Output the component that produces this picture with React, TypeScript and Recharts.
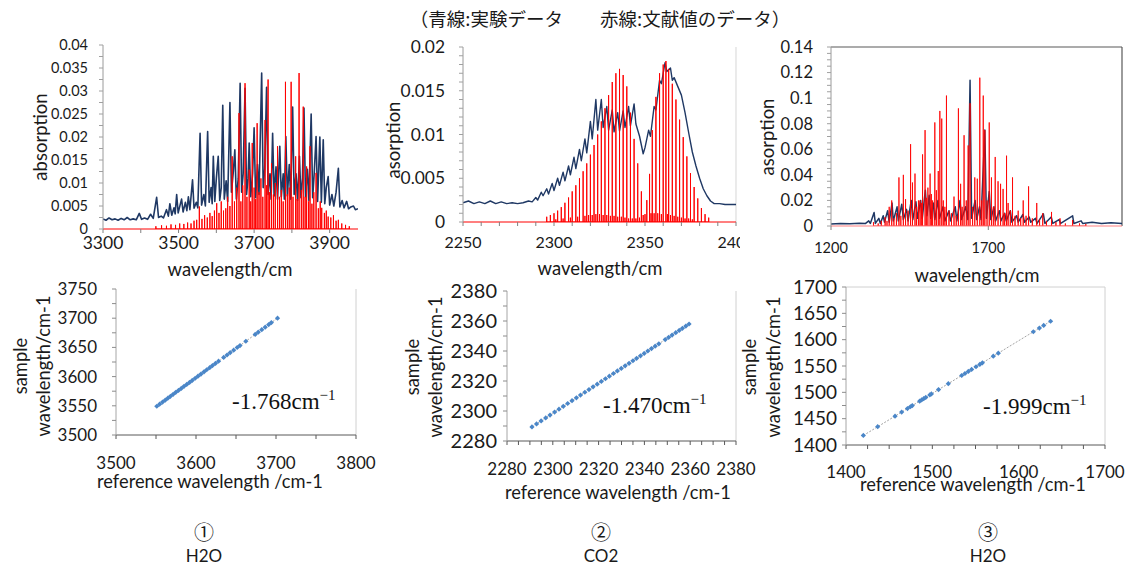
import React from 'react';
import {
  ComposedChart, Line, XAxis, YAxis, ReferenceLine,
  ScatterChart, Scatter,
} from 'recharts';

type Pt = [number, number];

// ---------------- text ----------------
const titleText = '（青線:実験データ　　赤線:文献値のデータ）';
const panelNumbers = ['①', '②', '③'];
const panelMolecules = ['H2O', 'CO2', 'H2O'];
const shiftValues = ['-1.768', '-1.470', '-1.999'];

// ---------------- panel 1 : H2O 3300-3975 ----------------
const p1XTicks = [3300, 3400, 3500, 3600, 3700, 3800, 3900];
const p1XLabels = [3300, 3500, 3700, 3900];
const p1YTicks = [0, 0.0025, 0.005, 0.0075, 0.01, 0.0125, 0.015, 0.0175, 0.02, 0.0225, 0.025, 0.0275, 0.03, 0.0325, 0.035, 0.0375, 0.04];
const p1YLabels = [0, 0.005, 0.01, 0.015, 0.02, 0.025, 0.03, 0.035, 0.04];
const p1Blue: Pt[] = [
  [3300,0.0022],[3308,0.0019],[3316,0.0024],[3324,0.002],[3332,0.0022],[3340,0.0019],[3348,0.0023],[3356,0.002],
  [3364,0.0025],[3372,0.002],[3380,0.0022],[3388,0.002],[3396,0.0034],[3402,0.0021],[3410,0.0024],[3418,0.0021],
  [3426,0.0032],[3433,0.0023],[3442,0.0069],[3447,0.0025],[3454,0.0028],[3460,0.0024],[3468,0.0042],[3473,0.0028],
  [3477,0.0055],[3482,0.003],[3488,0.0046],[3491,0.0033],[3495,0.0075],[3499,0.0035],[3504,0.0052],[3508,0.0065],
  [3512,0.0037],[3518,0.0058],[3522,0.004],[3526,0.007],[3530,0.0042],[3537,0.0107],[3541,0.0045],[3547,0.0058],
  [3551,0.0046],[3557,0.0208],[3561,0.0052],[3567,0.0075],[3571,0.005],[3577,0.0212],[3581,0.0058],[3586,0.009],
  [3589,0.0055],[3592,0.0158],[3596,0.006],[3600,0.011],[3605,0.0158],[3609,0.0062],[3613,0.009],[3617,0.0269],
  [3621,0.0065],[3626,0.0105],[3630,0.006],[3636,0.0275],[3640,0.008],[3645,0.0125],[3649,0.0172],[3653,0.0065],
  [3658,0.011],[3663,0.0317],[3667,0.008],[3671,0.012],[3676,0.0306],[3680,0.0075],[3684,0.011],[3687,0.0187],
  [3691,0.007],[3696,0.012],[3700,0.022],[3704,0.0068],[3709,0.014],[3713,0.0075],[3720,0.0339],[3724,0.009],
  [3728,0.013],[3733,0.0308],[3737,0.0075],[3742,0.012],[3745,0.0065],[3749,0.0208],[3753,0.0072],[3758,0.0135],
  [3762,0.0065],[3768,0.018],[3772,0.007],[3777,0.012],[3780,0.0065],[3784,0.0201],[3788,0.0072],[3793,0.014],
  [3797,0.0065],[3802,0.0265],[3806,0.0075],[3811,0.012],[3815,0.0062],[3820,0.0158],[3824,0.0068],[3828,0.011],
  [3832,0.0263],[3836,0.007],[3841,0.013],[3845,0.0062],[3851,0.025],[3855,0.0068],[3859,0.012],[3864,0.0201],
  [3868,0.006],[3874,0.02],[3878,0.0058],[3883,0.0194],[3887,0.0055],[3891,0.009],[3896,0.0114],[3900,0.0052],
  [3906,0.0075],[3911,0.005],[3917,0.008],[3923,0.0132],[3927,0.0048],[3933,0.0062],[3938,0.0046],[3945,0.006],
  [3950,0.0044],[3956,0.0048],[3963,0.005],[3968,0.0042],[3975,0.0044],
];
const p1Red: Pt[] = [
  [3440,0.0006],[3455,0.0008],[3468,0.0007],[3480,0.001],[3492,0.0009],[3503,0.0012],[3514,0.0011],[3524,0.0014],
  [3533,0.0012],[3541,0.0018],[3548,0.002],[3555,0.0049],[3562,0.0022],[3569,0.003],[3576,0.0025],[3583,0.0035],
  [3589,0.0028],[3595,0.004],[3601,0.0056],[3607,0.0035],[3613,0.006],[3619,0.004],[3625,0.0045],[3630,0.007],
  [3636,0.005],[3642,0.0158],[3648,0.006],[3654,0.009],[3660,0.0252],[3665,0.006],[3670,0.0095],[3676,0.0317],
  [3681,0.007],[3687,0.0129],[3691,0.006],[3695,0.0187],[3700,0.009],[3704,0.0065],[3708,0.023],[3713,0.008],
  [3718,0.011],[3723,0.007],[3729,0.0237],[3733,0.0095],[3737,0.0325],[3741,0.008],[3746,0.0143],[3751,0.0075],
  [3756,0.01],[3762,0.018],[3767,0.007],[3772,0.0085],[3777,0.006],[3783,0.032],[3788,0.0075],[3793,0.009],
  [3798,0.032],[3803,0.007],[3810,0.0158],[3814,0.0065],[3819,0.0339],[3825,0.0085],[3830,0.0266],[3835,0.007],
  [3839,0.0136],[3844,0.006],[3848,0.018],[3853,0.0055],[3858,0.008],[3864,0.0122],[3870,0.0045],[3875,0.006],
  [3879,0.0046],[3886,0.0035],[3891,0.004],[3896,0.0027],[3903,0.0025],[3910,0.003],[3917,0.0018],[3923,0.002],
  [3932,0.0012],[3942,0.0009],[3952,0.0006],
];

// ---------------- panel 2 : CO2 2250-2400 ----------------
const p2XTicks = [2250, 2260, 2270, 2280, 2290, 2300, 2310, 2320, 2330, 2340, 2350, 2360, 2370, 2380, 2390, 2400];
const p2XLabels = [2250, 2300, 2350, 2400];
const p2YTicks = [0, 0.001, 0.002, 0.003, 0.004, 0.005, 0.006, 0.007, 0.008, 0.009, 0.01, 0.011, 0.012, 0.013, 0.014, 0.015, 0.016, 0.017, 0.018, 0.019, 0.02];
const p2YLabels = [0, 0.005, 0.01, 0.015, 0.02];
const p2Blue: Pt[] = [
  [2250,0.0022],[2253,0.0024],[2256,0.0021],[2259,0.0023],[2262,0.0021],[2265,0.0024],[2268,0.0021],[2271,0.0023],
  [2274,0.0021],[2277,0.0022],[2280,0.0021],[2283,0.0022],[2286,0.0024],[2288,0.0023],[2290,0.0028],[2291,0.0025],
  [2293,0.0034],[2294,0.003],[2296,0.0038],[2297,0.0032],[2299,0.0044],[2300,0.0036],[2302,0.005],[2303,0.0042],
  [2305,0.0057],[2306,0.0047],[2308,0.0064],[2309,0.0054],[2311,0.0074],[2312,0.0061],[2314,0.0083],[2315,0.007],
  [2317,0.0095],[2318,0.0079],[2320,0.0115],[2321,0.0095],[2323,0.014],[2324,0.0105],[2326,0.014],[2327,0.0108],
  [2329,0.0132],[2330,0.0105],[2332,0.0128],[2333,0.0103],[2335,0.0125],[2336,0.0104],[2338,0.0127],[2339,0.0108],
  [2341,0.0132],[2342,0.011],[2344,0.0135],[2345,0.0112],[2347,0.0098],[2349,0.0078],[2350,0.0085],[2352,0.0105],
  [2353,0.0098],[2355,0.0132],[2356,0.0128],[2358,0.0162],[2359,0.0158],[2361,0.0182],[2362,0.0172],[2364,0.0176],
  [2365,0.0162],[2366,0.0165],[2368,0.0155],[2370,0.0145],[2372,0.0125],[2374,0.0102],[2376,0.008],[2378,0.0064],
  [2380,0.005],[2382,0.0038],[2384,0.003],[2386,0.0024],[2388,0.0021],[2391,0.0021],[2394,0.002],[2397,0.002],[2400,0.002],
];
const p2Red: Pt[] = [
  [2296,0.0006],[2298,0.0008],[2300,0.001],[2301,0.0003],[2302,0.0013],[2304,0.0017],[2305,0.0004],[2306,0.0022],
  [2308,0.0028],[2309,0.0005],[2310,0.0035],[2312,0.0042],[2313,0.0006],[2314,0.005],[2316,0.0058],[2317,0.0007],
  [2318,0.0067],[2319,0.0008],[2320,0.0077],[2321,0.0008],[2322,0.0088],[2323,0.0009],[2324,0.01],[2325,0.0009],
  [2326,0.0115],[2327,0.0008],[2328,0.013],[2329,0.0008],[2330,0.0145],[2331,0.0007],[2332,0.016],[2333,0.0007],
  [2334,0.017],[2335,0.0006],[2336,0.0175],[2337,0.0006],[2338,0.0168],[2339,0.0005],[2340,0.0155],[2341,0.0004],
  [2342,0.0125],[2343,0.0004],[2344,0.0095],[2345,0.0004],[2346,0.0067],[2347,0.0005],[2348,0.0035],[2349,0.0008],
  [2350,0.0009],[2351,0.0025],[2352.5,0.0055],[2353.3,0.001],[2354,0.0105],[2355,0.001],[2356,0.0143],[2357,0.001],
  [2358,0.017],[2359,0.0009],[2360,0.018],[2361.5,0.0184],[2362.3,0.0009],[2363,0.0175],[2364,0.0008],[2365,0.0158],
  [2366,0.0007],[2367,0.014],[2368,0.0006],[2369,0.0117],[2370,0.0005],[2371,0.0097],[2372,0.0004],[2373,0.0075],
  [2374,0.0004],[2375,0.0056],[2376,0.0003],[2377,0.004],[2379,0.0027],[2381,0.0016],[2383,0.0009],[2385,0.0005],
];

// ---------------- panel 3 : H2O 1200-2125 ----------------
const p3XTicks = [1200, 1700];
const p3XLabels = [1200, 1700];
const p3YTicks = [0, 0.005, 0.01, 0.015, 0.02, 0.025, 0.03, 0.035, 0.04, 0.045, 0.05, 0.055, 0.06, 0.065, 0.07, 0.075, 0.08, 0.085, 0.09, 0.095, 0.1, 0.105, 0.11, 0.115, 0.12, 0.125, 0.13, 0.135, 0.14];
const p3YLabels = [0, 0.02, 0.04, 0.06, 0.08, 0.1, 0.12, 0.14];
const p3Blue: Pt[] = [
  [1200,0.0015],[1230,0.002],[1260,0.0018],[1290,0.0022],[1310,0.002],[1320,0.004],[1325,0.002],[1337,0.0105],
  [1341,0.002],[1352,0.006],[1357,0.002],[1366,0.008],[1370,0.003],[1380,0.012],[1385,0.003],[1394,0.018],
  [1398,0.004],[1410,0.015],[1414,0.004],[1425,0.017],[1430,0.005],[1440,0.013],[1445,0.004],[1455,0.02],
  [1460,0.005],[1470,0.019],[1475,0.006],[1485,0.02],[1490,0.006],[1500,0.028],[1505,0.008],[1512,0.024],
  [1517,0.006],[1525,0.018],[1530,0.005],[1540,0.02],[1545,0.006],[1556,0.015],[1562,0.004],[1575,0.012],
  [1580,0.004],[1595,0.015],[1600,0.004],[1610,0.02],[1615,0.005],[1628,0.015],[1635,0.005],[1642,0.114],
  [1647,0.006],[1658,0.02],[1663,0.005],[1672,0.015],[1677,0.005],[1689,0.075],[1694,0.006],[1703,0.027],
  [1708,0.005],[1718,0.015],[1723,0.004],[1735,0.012],[1740,0.004],[1752,0.01],[1757,0.004],[1770,0.012],
  [1775,0.003],[1790,0.008],[1795,0.003],[1810,0.009],[1815,0.003],[1830,0.007],[1835,0.003],[1850,0.006],
  [1855,0.002],[1875,0.0095],[1880,0.002],[1900,0.007],[1905,0.002],[1925,0.005],[1930,0.002],[1968,0.008],
  [1972,0.002],[1995,0.004],[2000,0.002],[2030,0.003],[2060,0.002],[2090,0.0025],[2125,0.002],
];
const p3Red: Pt[] = [
  [1335,0.003],[1350,0.002],[1360,0.004],[1372,0.007],[1378,0.004],[1385,0.015],[1393,0.02],[1400,0.006],
  [1408,0.01],[1416,0.038],[1422,0.008],[1430,0.04],[1437,0.021],[1445,0.012],[1453,0.064],[1459,0.034],
  [1467,0.041],[1472,0.015],[1478,0.02],[1483,0.02],[1487,0.018],[1491,0.056],[1499,0.075],[1503,0.022],
  [1508,0.03],[1515,0.041],[1519,0.025],[1523,0.02],[1530,0.081],[1535,0.028],[1541,0.043],[1546,0.09],
  [1552,0.084],[1557,0.02],[1562,0.015],[1567,0.102],[1575,0.012],[1583,0.01],[1591,0.023],[1598,0.008],
  [1605,0.092],[1612,0.033],[1617,0.015],[1623,0.071],[1630,0.02],[1636,0.063],[1642,0.096],[1650,0.015],
  [1657,0.038],[1665,0.037],[1673,0.116],[1679,0.02],[1684,0.102],[1689,0.075],[1696,0.02],[1703,0.081],
  [1710,0.038],[1716,0.015],[1722,0.054],[1731,0.035],[1739,0.033],[1747,0.029],[1752,0.01],[1758,0.055],
  [1763,0.018],[1770,0.012],[1777,0.038],[1785,0.008],[1795,0.012],[1803,0.006],[1811,0.02],[1820,0.008],
  [1828,0.031],[1840,0.006],[1854,0.018],[1863,0.005],[1873,0.01],[1885,0.004],[1901,0.011],[1915,0.003],
  [1928,0.006],[1945,0.002],[1968,0.0047],[1990,0.002],[2010,0.0015],
];

// ---------------- panel 4 : H2O calibration ----------------
const p4XTicks = [3500, 3550, 3600, 3650, 3700, 3750, 3800];
const p4XLabels = [3500, 3600, 3700, 3800];
const p4YTicks = [3500, 3525, 3550, 3575, 3600, 3625, 3650, 3675, 3700, 3725, 3750];
const p4YLabels = [3500, 3550, 3600, 3650, 3700, 3750];
const p4Points: Pt[] = [
  [3551.0,3549.2],[3554.5,3552.8],[3558.2,3556.4],[3561.5,3559.7],[3564.8,3563.1],[3568.0,3566.2],[3571.4,3569.6],
  [3574.7,3573.0],[3578.1,3576.3],[3581.6,3579.8],[3585.0,3583.3],[3588.4,3586.6],[3591.9,3590.1],[3595.3,3593.5],
  [3599.0,3597.2],[3602.5,3600.8],[3606.2,3604.4],[3610.0,3608.2],[3613.4,3611.7],[3617.1,3615.3],[3620.6,3618.8],
  [3624.3,3622.5],[3628.2,3626.4],[3634.6,3632.8],[3638.8,3637.0],[3642.7,3640.9],[3647.1,3645.3],[3651.5,3649.8],
  [3655.0,3653.2],[3662.3,3660.5],[3674.0,3672.2],[3677.8,3676.1],[3682.2,3680.4],[3686.5,3684.7],[3690.9,3689.1],
  [3694.2,3692.5],[3701.9,3700.1],
];
const p4Fit: Pt[] = [[3551.0,3549.2],[3701.9,3700.1]];

// ---------------- panel 5 : CO2 calibration ----------------
const p5XTicks = [2280, 2285, 2290, 2295, 2300, 2305, 2310, 2315, 2320, 2325, 2330, 2335, 2340, 2345, 2350, 2355, 2360, 2365, 2370, 2375, 2380];
const p5XLabels = [2280, 2300, 2320, 2340, 2360, 2380];
const p5YTicks = [2280, 2290, 2300, 2310, 2320, 2330, 2340, 2350, 2360, 2370, 2380];
const p5YLabels = [2280, 2300, 2320, 2340, 2360, 2380];
const p5Points: Pt[] = [
  [2290.9,2289.4],[2292.9,2291.4],[2294.9,2293.4],[2296.9,2295.4],[2298.8,2297.3],[2300.8,2299.3],[2302.7,2301.2],
  [2304.6,2303.1],[2306.5,2305.0],[2308.4,2306.9],[2310.3,2308.8],[2312.1,2310.6],[2314.0,2312.5],[2315.8,2314.3],
  [2317.6,2316.1],[2319.4,2317.9],[2321.2,2319.7],[2323.0,2321.5],[2324.7,2323.2],[2326.5,2325.0],[2328.2,2326.7],
  [2329.9,2328.4],[2331.6,2330.1],[2333.3,2331.8],[2335.0,2333.5],[2336.6,2335.1],[2338.3,2336.8],[2339.9,2338.4],
  [2341.5,2340.0],[2343.1,2341.6],[2344.7,2343.2],[2346.3,2344.8],[2349.1,2347.6],[2350.6,2349.1],[2352.1,2350.6],
  [2353.7,2352.2],[2355.2,2353.7],[2356.6,2355.1],[2358.1,2356.6],[2359.5,2358.0],
];
const p5Fit: Pt[] = [[2290.9,2289.4],[2359.5,2358.0]];

// ---------------- panel 6 : H2O calibration ----------------
const p6XTicks = [1400, 1425, 1450, 1475, 1500, 1525, 1550, 1575, 1600, 1625, 1650, 1675, 1700];
const p6XLabels = [1400, 1500, 1600, 1700];
const p6YTicks = [1400, 1425, 1450, 1475, 1500, 1525, 1550, 1575, 1600, 1625, 1650, 1675, 1700];
const p6YLabels = [1400, 1450, 1500, 1550, 1600, 1650, 1700];
const p6Points: Pt[] = [
  [1420.1,1418.1],[1436.7,1434.7],[1456.8,1454.8],[1464.5,1462.5],[1471.2,1469.2],[1474.6,1472.6],[1476.8,1474.8],
  [1485.3,1483.3],[1487.6,1485.6],[1490.0,1488.0],[1492.4,1490.4],[1497.1,1495.1],[1498.9,1496.9],[1507.2,1505.2],
  [1518.5,1516.5],[1534.0,1532.0],[1537.8,1535.8],[1541.7,1539.7],[1545.5,1543.5],[1550.6,1548.6],[1555.0,1553.0],
  [1558.0,1556.0],[1570.6,1568.6],[1576.4,1574.4],[1617.0,1615.0],[1624.0,1622.0],[1629.0,1627.0],[1637.0,1635.0],
];
const p6Fit: Pt[] = [[1420.1,1418.1],[1637.0,1635.0]];

// ---------------- helpers ----------------
const FONT = 'Lato, "Noto Sans", "DejaVu Sans", sans-serif';
const SERIF = '"Liberation Serif", "Times New Roman", serif';
const CJK = '"Noto Sans CJK JP", "Noto Sans", sans-serif';
const POINT_BLUE = '#4a86c8';

const toXY = (list: Pt[]) => list.map(([x, y]) => ({ x, y }));
const toSticks = (list: Pt[]) => {
  const sorted = [...list].sort((a, b) => a[0] - b[0]);
  const out: { x: number; y: number }[] = [];
  sorted.forEach(([x, h]) => { out.push({ x, y: 0 }, { x, y: h }, { x, y: 0 }); });
  return out;
};
const labelFmt = (labels: number[]) => (v: number) =>
  labels.some((l) => Math.abs(l - v) < 1e-9) ? String(v) : '';

const SmallDiamond = (p: any) => {
  const r = 2.6;
  if (p.cx == null || p.cy == null) return <g />;
  return (
    <path d={`M${p.cx},${p.cy - r}L${p.cx + r},${p.cy}L${p.cx},${p.cy + r}L${p.cx - r},${p.cy}Z`} fill={POINT_BLUE} />
  );
};

interface AxisStyle {
  xFont: number; yFont: number; xTickMargin: number; yTickMargin: number;
}
interface Box { x0: number; y0: number; x1: number; y1: number; yAxisW: number; mRight: number; }

function SpectrumPanel(props: {
  box: Box; st: AxisStyle;
  xDomain: [number, number]; xTicks: number[]; xLabels: number[];
  yDomain: [number, number]; yTicks: number[]; yLabels: number[];
  blue: Pt[]; red: Pt[]; baseColor: string; redOpacity: number; blueWidth: number;
  borderColor?: string; borderTop?: boolean;
}) {
  const { box, st } = props;
  const mTop = 12, xAxisH = 40;
  return (
    <div style={{ position: 'absolute', left: box.x0 - box.yAxisW, top: box.y0 - mTop }}>
      <ComposedChart
        width={box.x1 - box.x0 + box.yAxisW + box.mRight}
        height={box.y1 - box.y0 + mTop + xAxisH}
        margin={{ top: mTop, right: box.mRight, bottom: 0, left: 0 }}
      >
        <XAxis type="number" dataKey="x" domain={props.xDomain} ticks={props.xTicks} interval={0}
          allowDataOverflow height={xAxisH} tickFormatter={labelFmt(props.xLabels)}
          axisLine={{ stroke: props.baseColor, strokeWidth: 1.2 }} tickLine={{ stroke: '#808080' }}
          tickSize={4} tickMargin={st.xTickMargin}
          tick={{ fontSize: st.xFont, fill: '#1a1a1a', fontFamily: FONT }} />
        <YAxis type="number" domain={props.yDomain} ticks={props.yTicks} interval={0}
          allowDataOverflow width={box.yAxisW} tickFormatter={labelFmt(props.yLabels)}
          axisLine={{ stroke: '#9a9a9a' }} tickLine={{ stroke: '#a0a0a0' }}
          tickSize={4} tickMargin={st.yTickMargin}
          tick={{ fontSize: st.yFont, fill: '#1a1a1a', fontFamily: FONT }} />
        {props.borderColor && (
          <ReferenceLine x={props.xDomain[1]} stroke={props.borderColor} strokeWidth={1.2} />
        )}
        {props.borderColor && props.borderTop && (
          <ReferenceLine y={props.yDomain[1]} stroke={props.borderColor} strokeWidth={1.2} />
        )}
        <Line data={toXY(props.blue)} dataKey="y" type="linear" stroke="#1f3864" strokeWidth={props.blueWidth}
          strokeLinejoin="round" dot={false} activeDot={false} isAnimationActive={false} />
        <Line data={toSticks(props.red)} dataKey="y" type="linear" stroke="#ff0000" strokeWidth={1}
          strokeOpacity={props.redOpacity} dot={false} activeDot={false} isAnimationActive={false} />
      </ComposedChart>
    </div>
  );
}

function CalibPanel(props: {
  box: Box; st: AxisStyle;
  xDomain: [number, number]; xTicks: number[]; xLabels: number[];
  yDomain: [number, number]; yTicks: number[]; yLabels: number[];
  points: Pt[]; fit: Pt[]; borderTop?: boolean;
}) {
  const { box, st } = props;
  const mTop = 16, xAxisH = 44;
  return (
    <div style={{ position: 'absolute', left: box.x0 - box.yAxisW, top: box.y0 - mTop }}>
      <ScatterChart
        width={box.x1 - box.x0 + box.yAxisW + box.mRight}
        height={box.y1 - box.y0 + mTop + xAxisH}
        margin={{ top: mTop, right: box.mRight, bottom: 0, left: 0 }}
      >
        <XAxis type="number" dataKey="x" domain={props.xDomain} ticks={props.xTicks} interval={0}
          allowDataOverflow height={xAxisH} tickFormatter={labelFmt(props.xLabels)}
          axisLine={{ stroke: '#595959' }} tickLine={{ stroke: '#595959' }}
          tickSize={4} tickMargin={st.xTickMargin}
          tick={{ fontSize: st.xFont, fill: '#1a1a1a', fontFamily: FONT }} />
        <YAxis type="number" dataKey="y" domain={props.yDomain} ticks={props.yTicks} interval={0}
          allowDataOverflow width={box.yAxisW} tickFormatter={labelFmt(props.yLabels)}
          axisLine={{ stroke: '#a6a6a6' }} tickLine={{ stroke: '#8c8c8c' }}
          tickSize={4} tickMargin={st.yTickMargin}
          tick={{ fontSize: st.yFont, fill: '#1a1a1a', fontFamily: FONT }} />
        <ReferenceLine x={props.xDomain[1]} stroke="#d0d0d0" />
        {props.borderTop && <ReferenceLine y={props.yDomain[1]} stroke="#d0d0d0" />}
        <Scatter data={toXY(props.fit)} line={{ stroke: '#8c8c8c', strokeWidth: 0.8, strokeDasharray: '2 1.5' }}
          shape={() => <g />} isAnimationActive={false} />
        <Scatter data={toXY(props.points)} shape={SmallDiamond} fill={POINT_BLUE} isAnimationActive={false} />
      </ScatterChart>
    </div>
  );
}

function Txt(props: { x: number; y: number; text: string; size: number; rotate?: boolean; family?: string; weight?: number }) {
  return (
    <div style={{
      position: 'absolute', left: props.x, top: props.y, whiteSpace: 'nowrap',
      transform: `translate(-50%, -50%)${props.rotate ? ' rotate(-90deg)' : ''}`,
      fontSize: props.size, fontFamily: props.family || FONT, color: '#1a1a1a', lineHeight: 1,
      fontWeight: props.weight || 400,
    }}>{props.text}</div>
  );
}

function Shift(props: { left: number; cy: number; value: string }) {
  return (
    <div style={{
      position: 'absolute', left: props.left, top: props.cy - 13, whiteSpace: 'nowrap',
      fontFamily: SERIF, fontSize: 23, lineHeight: '26px', color: '#111',
    }}>
      {props.value}cm<span style={{ fontSize: 15, position: 'relative', top: -9 }}>−1</span>
    </div>
  );
}

export default function App() {
  return (
    <div style={{ position: 'absolute', left: 0, top: 0, width: 1133, height: 567, background: '#fff', overflow: 'hidden' }}>
      <Txt x={600} y={18} text={titleText} size={18.5} family={CJK} />

      <SpectrumPanel
        box={{ x0: 103, y0: 45, x1: 358, y1: 229, yAxisW: 60, mRight: 20 }}
        st={{ xFont: 17.5, yFont: 14.5, xTickMargin: 4, yTickMargin: 11 }}
        xDomain={[3300, 3975]} xTicks={p1XTicks} xLabels={p1XLabels}
        yDomain={[0, 0.04]} yTicks={p1YTicks} yLabels={p1YLabels}
        blue={p1Blue} red={p1Red} baseColor="#ff0000" redOpacity={1} blueWidth={1.6} />
      <Txt x={40} y={137} text="absorption" size={18.5} rotate />
      <Txt x={230} y={269} text="wavelength/cm" size={18.5} />

      <SpectrumPanel
        box={{ x0: 463, y0: 47, x1: 736, y1: 222, yAxisW: 68, mRight: 4 }}
        st={{ xFont: 16, yFont: 17.4, xTickMargin: 11, yTickMargin: 14 }}
        xDomain={[2250, 2400]} xTicks={p2XTicks} xLabels={p2XLabels}
        yDomain={[0, 0.02]} yTicks={p2YTicks} yLabels={p2YLabels}
        blue={p2Blue} red={p2Red} baseColor="#ff0000" redOpacity={1} blueWidth={1.4} borderColor="#dddddd" />
      <Txt x={393} y={140} text="asorption" size={18.5} rotate />
      <Txt x={600} y={268} text="wavelength/cm" size={18.5} />

      <SpectrumPanel
        box={{ x0: 831, y0: 47, x1: 1122, y1: 226, yAxisW: 56, mRight: 8 }}
        st={{ xFont: 14.5, yFont: 16.5, xTickMargin: 13, yTickMargin: 14 }}
        xDomain={[1200, 2125]} xTicks={p3XTicks} xLabels={p3XLabels}
        yDomain={[0, 0.14]} yTicks={p3YTicks} yLabels={p3YLabels}
        blue={p3Blue} red={p3Red} baseColor="#ff8080" redOpacity={0.85} blueWidth={1.5} borderColor="#595959" borderTop />
      <Txt x={767} y={137} text="asorption" size={18.5} rotate />
      <Txt x={977} y={275} text="wavelength/cm" size={18.5} />

      <CalibPanel
        box={{ x0: 116, y0: 289, x1: 356, y1: 435, yAxisW: 64, mRight: 25 }}
        st={{ xFont: 17, yFont: 17, xTickMargin: 18, yTickMargin: 15 }}
        xDomain={[3500, 3800]} xTicks={p4XTicks} xLabels={p4XLabels}
        yDomain={[3500, 3750]} yTicks={p4YTicks} yLabels={p4YLabels}
        points={p4Points} fit={p4Fit} />
      <Txt x={20} y={366} text="sample" size={18.3} rotate />
      <Txt x={43} y={366} text="wavelength/cm-1" size={18.3} rotate />
      <Txt x={210} y={481} text="reference wavelength /cm-1" size={18.3} />
      <Shift left={232} cy={402} value={shiftValues[0]} />

      <CalibPanel
        box={{ x0: 507, y0: 291, x1: 736, y1: 441, yAxisW: 66, mRight: 25 }}
        st={{ xFont: 17, yFont: 20, xTickMargin: 18, yTickMargin: 6 }}
        xDomain={[2280, 2380]} xTicks={p5XTicks} xLabels={p5XLabels}
        yDomain={[2280, 2380]} yTicks={p5YTicks} yLabels={p5YLabels}
        points={p5Points} fit={p5Fit} />
      <Txt x={412} y={367} text="sample" size={18.3} rotate />
      <Txt x={435} y={367} text="wavelength/cm-1" size={18.3} rotate />
      <Txt x={618} y={492} text="reference wavelength /cm-1" size={18.3} />
      <Shift left={603} cy={406} value={shiftValues[1]} />

      <CalibPanel
        box={{ x0: 846, y0: 287, x1: 1105, y1: 445, yAxisW: 60, mRight: 27 }}
        st={{ xFont: 17, yFont: 19, xTickMargin: 17, yTickMargin: 5 }}
        xDomain={[1400, 1700]} xTicks={p6XTicks} xLabels={p6XLabels}
        yDomain={[1400, 1700]} yTicks={p6YTicks} yLabels={p6YLabels}
        points={p6Points} fit={p6Fit} borderTop />
      <Txt x={749} y={367} text="sample" size={18.3} rotate />
      <Txt x={773} y={367} text="wavelength/cm-1" size={18.3} rotate />
      <Txt x={973} y={484} text="reference wavelength /cm-1" size={18.3} />
      <Shift left={983} cy={407} value={shiftValues[2]} />

      {[204, 601, 988].map((cx, i) => (
        <React.Fragment key={i}>
          <Txt x={cx} y={532} text={panelNumbers[i]} size={20} family={CJK} />
          <Txt x={cx} y={555} text={panelMolecules[i]} size={17} />
        </React.Fragment>
      ))}
    </div>
  );
}
